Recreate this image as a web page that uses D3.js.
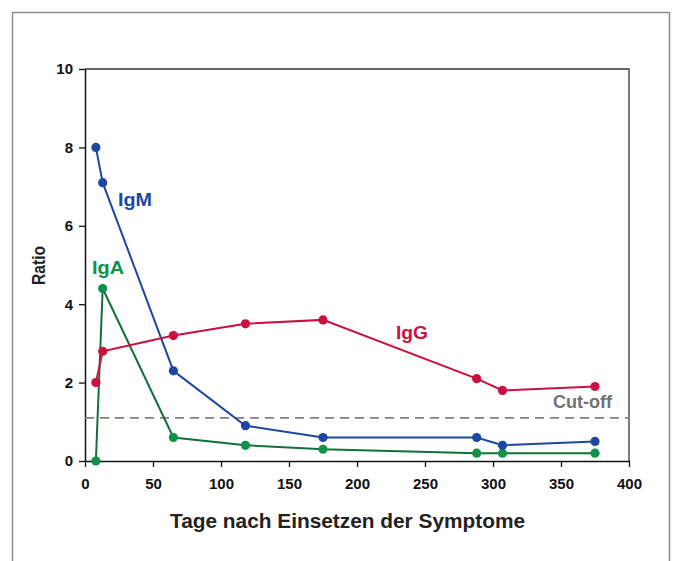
<!DOCTYPE html>
<html><head><meta charset="utf-8">
<script src="https://cdn.jsdelivr.net/npm/d3@7"></script>
<style>
body{margin:0;background:#fff;}
svg{display:block;font-family:"Liberation Sans",Arial,sans-serif;}
</style></head>
<body>
<svg id="chart" width="676" height="561"></svg>
<script>
const days = [8, 13, 65, 118, 175, 288, 307, 375];
const igM = [8.0, 7.1, 2.3, 0.9, 0.6, 0.6, 0.4, 0.5];
const igG = [2.0, 2.8, 3.2, 3.5, 3.6, 2.1, 1.8, 1.9];
const igA = [0.0, 4.4, 0.6, 0.4, 0.3, 0.2, 0.2, 0.2];
const cutoff = 1.1;
const xTicks = [0, 50, 100, 150, 200, 250, 300, 350, 400];
const yTicks = [0, 2, 4, 6, 8, 10];
const seriesNames = ["IgM", "IgG", "IgA"];

const svg = d3.select("#chart");
// outer frame
svg.append("path").attr("d","M12.5,575 V12.5 H669.5 V575")
  .attr("fill","none").attr("stroke","#8c8c8c").attr("stroke-width",1.5);

const x = d3.scaleLinear().domain([0,400]).range([85,629]);
const y = d3.scaleLinear().domain([0,10]).range([461,69]);

// plot box (top & right)
svg.append("path").attr("d",`M${x(0)},${y(10)} H${x(400)} V${y(0)}`)
  .attr("fill","none").attr("stroke","#333").attr("stroke-width",1.3);

const xAxis = svg.append("g").attr("transform",`translate(0,${y(0)})`)
  .call(d3.axisBottom(x).tickValues(xTicks).tickSize(6).tickSizeOuter(0).tickPadding(11));
const yAxis = svg.append("g").attr("transform",`translate(${x(0)},0)`)
  .call(d3.axisLeft(y).tickValues(yTicks).tickSize(6).tickSizeOuter(0).tickPadding(6));
[xAxis,yAxis].forEach(a=>{
  a.attr("font-size",15).attr("font-family",null);
  a.select(".domain").attr("stroke","#111").attr("stroke-width",1.5);
  a.selectAll(".tick line").attr("stroke","#111").attr("stroke-width",1.3);
  a.selectAll(".tick text").attr("fill","#111").attr("font-size",15).attr("font-weight","bold");
});

// cut-off line
svg.append("line").attr("x1",x(0)).attr("x2",x(400)).attr("y1",y(cutoff)).attr("y2",y(cutoff))
  .attr("stroke","#808080").attr("stroke-width",1.6).attr("stroke-dasharray","9,6");

const series = [
  {name:seriesNames[2], vals:igA, line:"#13703c", dot:"#0e9148"},
  {name:seriesNames[0], vals:igM, line:"#1c47a3", dot:"#1c47a3"},
  {name:seriesNames[1], vals:igG, line:"#c9103f", dot:"#c9103f"}
];
const lineGen = d3.line().x(d=>x(d[0])).y(d=>y(d[1]));
series.forEach(s=>{
  const pts = days.map((d,i)=>[d,s.vals[i]]);
  svg.append("path").attr("d",lineGen(pts)).attr("fill","none")
    .attr("stroke",s.line).attr("stroke-width",2);
  svg.selectAll(null).data(pts).enter().append("circle")
    .attr("cx",d=>x(d[0])).attr("cy",d=>y(d[1])).attr("r",4.6).attr("fill",s.dot);
});

// series labels
const lab = (t,xx,yy,c,w)=>svg.append("text").attr("x",xx).attr("y",yy).text(t)
  .attr("fill",c).attr("font-size",18).attr("font-weight","bold")
  .attr("textLength",w).attr("lengthAdjust","spacingAndGlyphs");
lab("IgM",118,206,"#1c47a3",34);
lab("IgA",92,274,"#0e9148",32);
lab("IgG",396,339,"#c9103f",32);
lab("Cut-off",553,408,"#707070",59);

// axis titles
svg.append("text").attr("x",170).attr("y",528)
  .attr("font-size",20).attr("font-weight","bold").attr("fill","#222")
  .attr("textLength",355).attr("lengthAdjust","spacingAndGlyphs")
  .text("Tage nach Einsetzen der Symptome");
svg.append("text").attr("transform","translate(45,285) rotate(-90)")
  .attr("font-size",18).attr("font-weight","bold").attr("fill","#222")
  .attr("textLength",39).attr("lengthAdjust","spacingAndGlyphs").text("Ratio");
</script>
</body></html>
